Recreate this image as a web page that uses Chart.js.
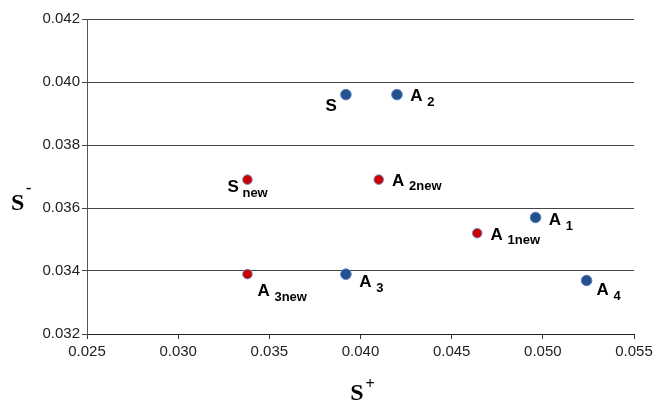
<!DOCTYPE html>
<html>
<head>
<meta charset="utf-8">
<script src="https://cdn.jsdelivr.net/npm/chart.js@4"></script>
<style>
  html, body { margin: 0; padding: 0; background: #fff; }
  #wrap { width: 668px; height: 404px; }
</style>
</head>
<body>
<div id="wrap"><canvas id="myChart" width="668" height="404"></canvas></div>
<script>
// data
const oldNames = ['S', 'A1', 'A2', 'A3', 'A4'];
const oldX = [0.0392, 0.0496, 0.0420, 0.0392, 0.0524];
const oldY = [0.0396, 0.0357, 0.0396, 0.0339, 0.0337];

const newNames = ['Snew', 'A1new', 'A2new', 'A3new'];
const newX = [0.0338, 0.0464, 0.0410, 0.0338];
const newY = [0.0369, 0.0352, 0.0369, 0.0339];

const xTicks = [0.025, 0.030, 0.035, 0.040, 0.045, 0.050, 0.055];
const yTicks = [0.032, 0.034, 0.036, 0.038, 0.040, 0.042];

// label placement (pixels relative to the point)
const labelPos = {
    S: { dx: -20.5, dy: 16.5 },
    A1: { dx: 13.3, dy: 7.7 },
    A2: { dx: 13.3, dy: 6.7 },
    A3: { dx: 13.3, dy: 13.3 },
    A4: { dx: 10, dy: 15 },
    Snew: { dx: -20, dy: 12.7 },
    A1new: { dx: 13.4, dy: 6.7 },
    A2new: { dx: 13.3, dy: 6 },
    A3new: { dx: 10, dy: 22 }
};

const toPoints = (xs, ys) => xs.map((x, i) => ({ x: x, y: ys[i] }));

const SANS = '"Liberation Sans", Arial, sans-serif';
const SERIF = '"Liberation Serif", "Times New Roman", serif';

const pointLabels = {
    id: 'pointLabels',
    afterDatasetsDraw(chart) {
        const ctx = chart.ctx;
        const names = [oldNames, newNames];
        ctx.save();
        ctx.fillStyle = '#000';
        ctx.textBaseline = 'alphabetic';
        ctx.textAlign = 'left';
        chart.data.datasets.forEach((ds, di) => {
            chart.getDatasetMeta(di).data.forEach((pt, i) => {
                const name = names[di][i];
                const pos = labelPos[name];
                const main = name.charAt(0);
                const sub = name.slice(1);
                const x = pt.x + pos.dx;
                const y = pt.y + pos.dy;
                ctx.font = 'bold 17px ' + SANS;
                ctx.fillText(main, x, y);
                if (sub) {
                    ctx.font = 'bold 13px ' + SANS;
                    ctx.fillText(sub, x + (main === 'S' ? 15 : 17), y + 4.5);
                }
            });
        });
        ctx.restore();
    },
    afterDraw(chart) {
        const ctx = chart.ctx;
        const area = chart.chartArea;
        ctx.save();
        ctx.fillStyle = '#000';
        ctx.textBaseline = 'alphabetic';
        // x title S+
        const cx = (area.left + area.right) / 2;
        ctx.font = 'bold 24px ' + SERIF;
        ctx.textAlign = 'right';
        ctx.fillText('S', cx + 3, 400);
        ctx.font = 'bold 16px ' + SERIF;
        ctx.textAlign = 'left';
        ctx.fillText('+', cx + 5, 389);
        // y title S-
        ctx.font = 'bold 24px ' + SERIF;
        ctx.textAlign = 'left';
        ctx.fillText('S', 11, 210);
        ctx.font = 'bold 16px ' + SERIF;
        ctx.fillText('-', 26, 193);
        ctx.restore();
    }
};

const data = {
    datasets: [{
        label: 'S+ / S-',
        data: toPoints(oldX, oldY),
        backgroundColor: '#23508f',
        borderColor: '#5b82bd',
        borderWidth: 1,
        pointRadius: 5.3,
        pointHoverRadius: 5.3
    }, {
        label: 'new',
        data: toPoints(newX, newY),
        backgroundColor: '#cc0000',
        borderColor: '#6f8fc6',
        borderWidth: 1,
        pointRadius: 4.8,
        pointHoverRadius: 4.8
    }]
};

const config = {
    type: 'scatter',
    data: data,
    options: {
        responsive: false,
        animation: false,
        layout: {
            padding: { top: 19, right: 34, left: 0, bottom: 0 }
        },
        plugins: {
            legend: { display: false },
            tooltip: { enabled: false }
        },
        scales: {
            x: {
                type: 'linear',
                min: xTicks[0],
                max: xTicks[xTicks.length - 1],
                afterBuildTicks: (scale) => { scale.ticks = xTicks.map(v => ({ value: v })); },
                afterFit: (scale) => { scale.height = 70; },
                ticks: {
                    callback: (v) => v.toFixed(3),
                    color: '#222',
                    font: { family: SANS, size: 15 },
                    padding: 4,
                    maxRotation: 0
                },
                grid: {
                    drawOnChartArea: false,
                    drawTicks: true,
                    tickLength: 5,
                    color: '#333'
                },
                border: { display: true, color: '#222', width: 1 }
            },
            y: {
                type: 'linear',
                min: yTicks[0],
                max: yTicks[yTicks.length - 1],
                afterBuildTicks: (scale) => { scale.ticks = yTicks.map(v => ({ value: v })); },
                afterFit: (scale) => { scale.width = 87; },
                ticks: {
                    callback: (v) => v.toFixed(3),
                    color: '#222',
                    font: { family: SANS, size: 15 },
                    padding: 2
                },
                grid: {
                    drawTicks: true,
                    tickLength: 5,
                    color: '#444'
                },
                border: { display: true, color: '#555', width: 1 }
            }
        }
    },
    plugins: [pointLabels]
};

new Chart(document.getElementById('myChart'), config);
</script>
</body>
</html>
